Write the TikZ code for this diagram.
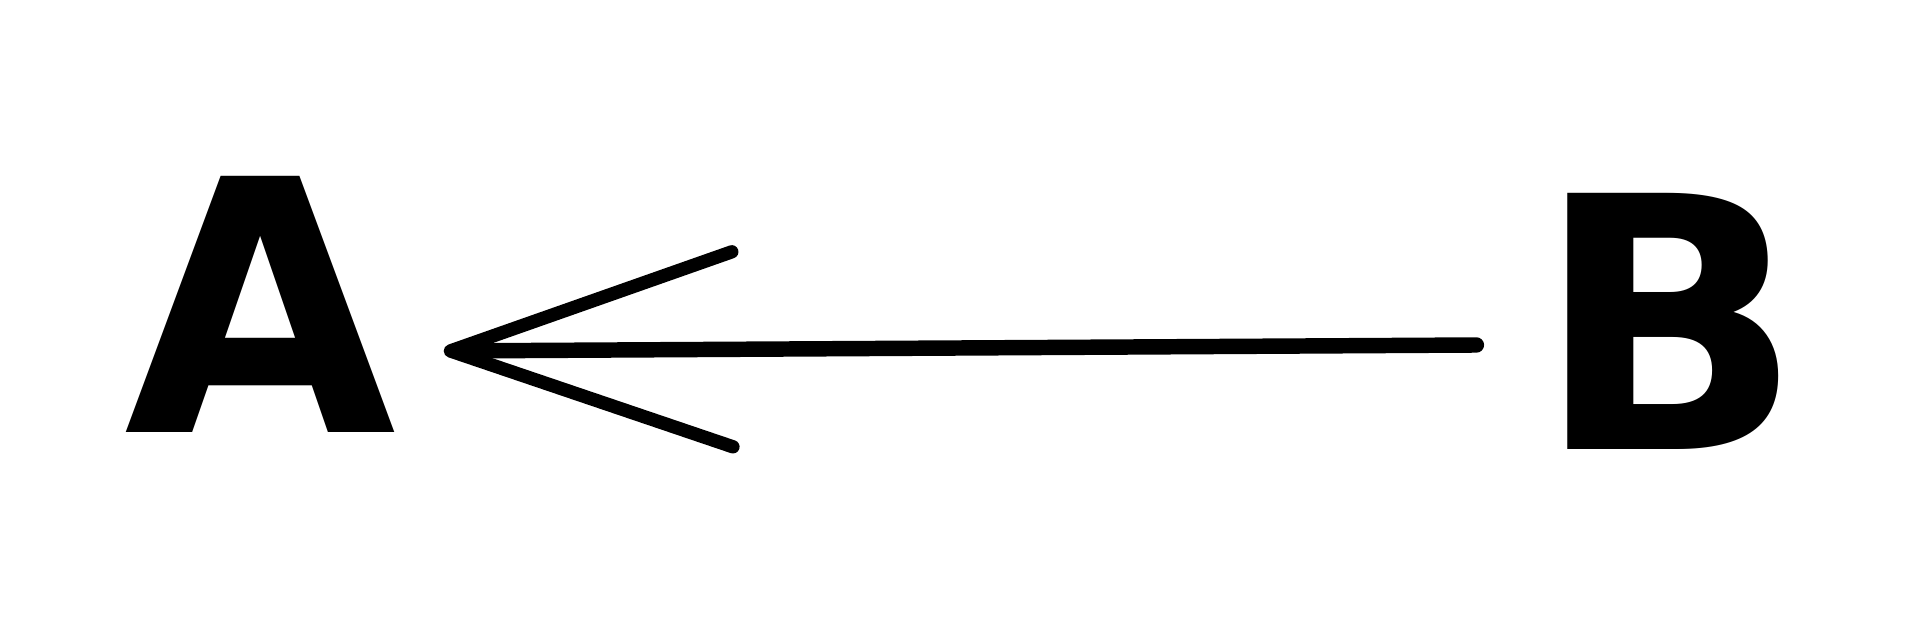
\documentclass[tikz,border=0pt]{standalone}
\usepackage{fontspec}
\usepackage{xcolor}
\usepackage{tikz}
\usetikzlibrary{arrows.meta,positioning}
\setmainfont{DejaVu Sans}
\definecolor{ink}{HTML}{000000}

\begin{document}
\begin{tikzpicture}
  \useasboundingbox (0,0) rectangle (19.08,6.24);
  \tikzset{letter/.style={text=ink, inner sep=0pt,
             font=\fontsize{100}{100}\selectfont\bfseries},
           sketch/.style={draw=ink, line width=4.4pt, line cap=round, line join=round,
             -{Straight Barb[length=28.2mm, width=19.5mm, line width=3.8pt, round]}}}
  \node[letter] (a) at (2.61,3.20) {A};
  \node[letter] (b) at (16.69,3.03) {B};
  \draw[sketch] ([xshift=-0.58cm, yshift=-0.24cm]b.west) -- ([xshift=0.46cm, yshift=-0.47cm]a.east);
\end{tikzpicture}
\end{document}
